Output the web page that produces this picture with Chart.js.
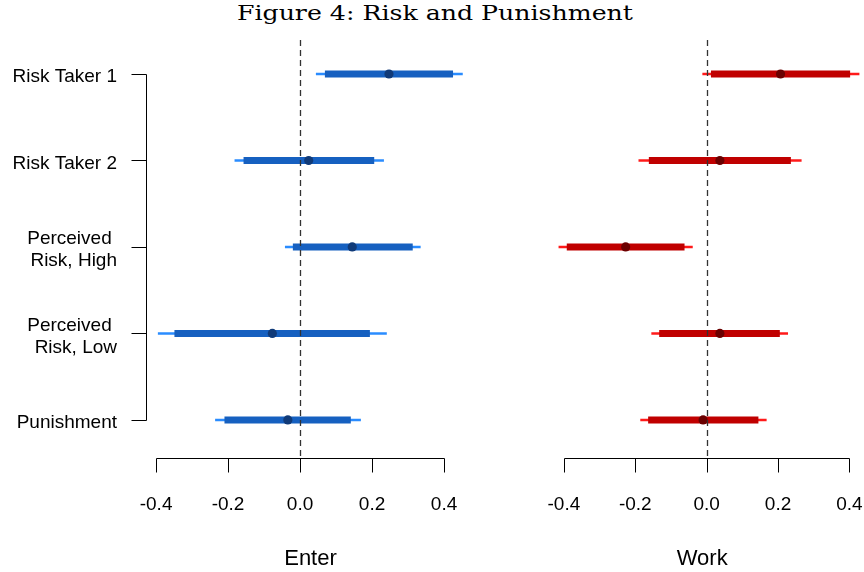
<!DOCTYPE html>
<html>
<head>
<meta charset="utf-8">
<script src="https://cdn.jsdelivr.net/npm/chart.js@4.4.1/dist/chart.umd.min.js"></script>
<style>
  html, body { margin: 0; padding: 0; background: #fff; }
  #wrap { position: relative; width: 864px; height: 572px; overflow: hidden; }
  #title { position: absolute; left: 3px; top: 1px; width: 864px; text-align: center;
           font-family: "DejaVu Serif", serif; font-size: 21px; color: #000; white-space: nowrap; }
  #title span { display: inline-block; transform-origin: center; }
  canvas { position: absolute; top: 0; }
  #enter { left: 0; }
  #work { left: 480px; }
</style>
</head>
<body>
<div id="wrap">
  <div id="title"><span>Figure 4: Risk and Punishment</span></div>
  <canvas id="enter" width="480" height="572"></canvas>
  <canvas id="work" width="384" height="572"></canvas>
</div>
<script>
// rows top to bottom
const rowLabels = ['Risk Taker 1', 'Risk Taker 2', ['Perceived ', 'Risk, High'], ['Perceived ', 'Risk, Low'], 'Punishment'];
const xTicks = [-0.4, -0.2, 0.0, 0.2, 0.4];

// Enter
const enterEst  = [0.247, 0.024, 0.145, -0.077, -0.034];
const enterLo90 = [0.069, -0.157, -0.020, -0.349, -0.210];
const enterHi90 = [0.425, 0.206, 0.313, 0.194, 0.141];
const enterLo95 = [0.044, -0.182, -0.042, -0.395, -0.236];
const enterHi95 = [0.452, 0.233, 0.335, 0.241, 0.169];

// Work
const workEst  = [0.207, 0.037, -0.227, 0.037, -0.010];
const workLo90 = [0.012, -0.162, -0.392, -0.133, -0.164];
const workHi90 = [0.402, 0.236, -0.062, 0.205, 0.145];
const workLo95 = [-0.012, -0.191, -0.415, -0.155, -0.186];
const workHi95 = [0.435, 0.266, -0.039, 0.228, 0.168];

const rows = rowLabels.map((l, i) => i + 1);
const sans = '"Liberation Sans", Arial, sans-serif';

// R style axes + dashed zero line
const rAxes = {
  id: 'rAxes',
  afterDatasetsDraw(chart, args, opts) {
    const { ctx, chartArea, scales: { x, y } } = chart;
    const snap = v => Math.round(v) + 0.5;
    ctx.save();
    ctx.strokeStyle = '#333';
    ctx.lineWidth = 1.3;
    ctx.setLineDash([6, 4]);
    const x0 = snap(x.getPixelForValue(0));
    ctx.beginPath();
    ctx.moveTo(x0, chartArea.top);
    ctx.lineTo(x0, chartArea.bottom);
    ctx.stroke();
    ctx.setLineDash([]);

    ctx.strokeStyle = '#000';
    ctx.lineWidth = 1;
    const yb = snap(chartArea.bottom);
    ctx.beginPath();
    ctx.moveTo(snap(x.getPixelForValue(xTicks[0])), yb);
    ctx.lineTo(snap(x.getPixelForValue(xTicks[xTicks.length - 1])), yb);
    xTicks.forEach(v => {
      const p = snap(x.getPixelForValue(v));
      ctx.moveTo(p, yb);
      ctx.lineTo(p, yb + 14);
    });
    if (opts.yAxis) {
      const xl = snap(chartArea.left);
      ctx.moveTo(xl, snap(y.getPixelForValue(rows[0])));
      ctx.lineTo(xl, snap(y.getPixelForValue(rows[rows.length - 1])));
      rows.forEach(r => {
        const p = snap(y.getPixelForValue(r));
        ctx.moveTo(xl, p);
        ctx.lineTo(xl - 15, p);
      });
    }
    ctx.stroke();
    ctx.restore();
  }
};

// lower order is drawn on top
function makeDatasets(est, lo90, hi90, lo95, hi95, thin, thick, dot) {
  const seg = (lo, hi, color, w, order) => rows.map((r, i) => ({
    type: 'line',
    data: [{ x: lo[i], y: r }, { x: hi[i], y: r }],
    borderColor: color,
    borderWidth: w,
    borderCapStyle: 'butt',
    pointRadius: 0,
    order: order
  }));
  return [
    ...seg(lo95, hi95, thin, 2.5, 3),
    ...seg(lo90, hi90, thick, 7, 2),
    {
      type: 'scatter',
      data: rows.map((r, i) => ({ x: est[i], y: r })),
      pointRadius: 4.6,
      pointBackgroundColor: dot,
      pointBorderWidth: 0,
      order: 1
    }
  ];
}

function makeChart(id, datasets, xMin, xMax, title, showY, pad) {
  return new Chart(document.getElementById(id), {
    type: 'line',
    data: { datasets: datasets },
    options: {
      responsive: false,
      animation: false,
      events: [],
      layout: { padding: pad },
      plugins: { legend: { display: false }, tooltip: { enabled: false }, rAxes: { yAxis: showY } },
      scales: {
        x: {
          type: 'linear',
          min: xMin,
          max: xMax,
          afterBuildTicks: s => { s.ticks = xTicks.map(v => ({ value: v })); },
          afterFit: s => { s.height = 114; },
          ticks: {
            callback: v => v.toFixed(1),
            font: { family: sans, size: 19 },
            color: '#000',
            padding: 0,
            maxRotation: 0,
            autoSkip: false
          },
          grid: { display: false, drawTicks: true, tickLength: 35 },
          border: { display: false },
          title: {
            display: true,
            text: title,
            color: '#000',
            font: { family: sans, size: 22 },
            padding: { top: 0, bottom: 0 }
          }
        },
        y: {
          type: 'linear',
          display: showY,
          reverse: true,
          min: 0.607,
          max: 5.44,
          afterBuildTicks: s => { s.ticks = rows.map(v => ({ value: v })); },
          afterFit: s => { if (showY) s.width = 146; },
          ticks: {
            callback: v => rowLabels[v - 1],
            font: { family: sans, size: 19, lineHeight: 1.15 },
            color: '#000',
            padding: 0,
            labelOffset: 3,
            autoSkip: false
          },
          grid: { display: false, drawTicks: true, tickLength: 29 },
          border: { display: false }
        }
      }
    },
    plugins: [rAxes]
  });
}

makeChart('enter',
  makeDatasets(enterEst, enterLo90, enterHi90, enterLo95, enterHi95, '#2a8cff', '#1660c0', '#103a78'),
  -0.428, 0.486, 'Enter', true, { top: 40, right: 5, left: 0, bottom: 0 });

makeChart('work',
  makeDatasets(workEst, workLo90, workHi90, workLo95, workHi95, '#ff1a1a', '#c00000', '#6b0000'),
  -0.453, 0.428, 'Work', false, { top: 40, right: 4, left: 65, bottom: 0 });

// stretch the serif title to the width of the original
const span = document.querySelector('#title span');
const w = span.getBoundingClientRect().width;
span.style.transform = 'scaleX(' + (396 / w) + ')';
</script>
</body>
</html>
